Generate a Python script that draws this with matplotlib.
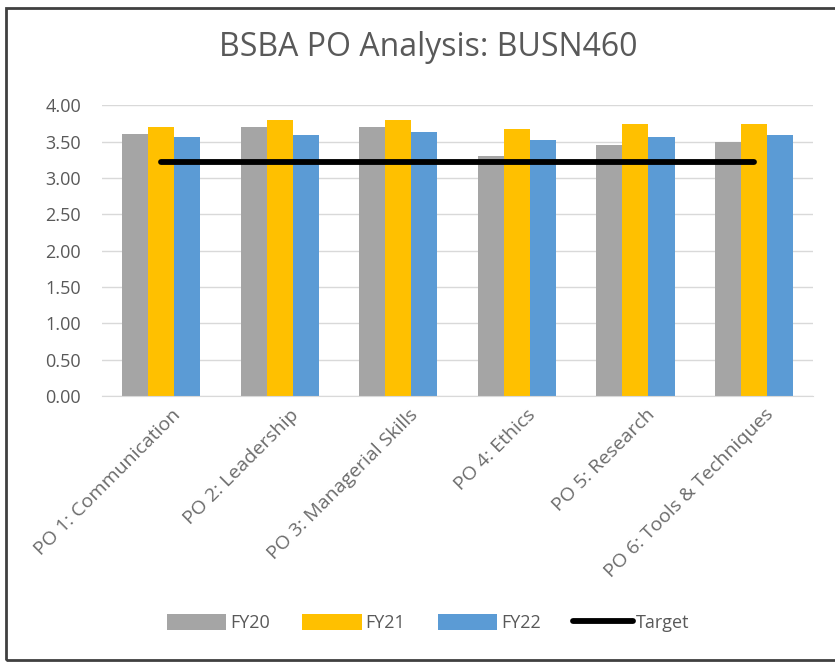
import matplotlib.pyplot as plt
import matplotlib.transforms as mtransforms
import numpy as np
from matplotlib.patches import Rectangle

plt.rcParams['font.family'] = ['Open Sans', 'DejaVu Sans']

# PO scores by fiscal year
categories = ['PO 1: Communication', 'PO 2: Leadership', 'PO 3: Managerial Skills',
              'PO 4: Ethics', 'PO 5: Research', 'PO 6: Tools & Techniques']
fy20 = [3.61, 3.70, 3.70, 3.31, 3.45, 3.50]
fy21 = [3.70, 3.80, 3.80, 3.67, 3.75, 3.75]
fy22 = [3.56, 3.59, 3.64, 3.53, 3.56, 3.59]
target = [3.22, 3.22, 3.22, 3.22, 3.22, 3.22]

x = np.arange(len(categories))
w = 0.22

fig = plt.figure(figsize=(8.35, 6.63), dpi=100)
ax = fig.add_axes([0.122, 0.403, 0.852, 0.438])

b1 = ax.bar(x - w, fy20, w, color='#a5a5a5', label='FY20', zorder=2)
b2 = ax.bar(x, fy21, w, color='#ffc000', label='FY21', zorder=2)
b3 = ax.bar(x + w, fy22, w, color='#5b9bd5', label='FY22', zorder=2)
ln, = ax.plot(x, target, color='black', lw=4.2, solid_capstyle='round', label='Target', zorder=3)

ax.set_xlim(-0.5, len(categories) - 0.5)
ax.set_ylim(0, 4)
yt = np.arange(0, 4.01, 0.5)
ax.set_yticks(yt)
ax.set_yticklabels([f'{v:.2f}' for v in yt])
ax.yaxis.grid(True, color='#d9d9d9', lw=1, zorder=0)
ax.set_axisbelow(True)
for s in ['top', 'right', 'left']:
    ax.spines[s].set_visible(False)
ax.spines['bottom'].set_color('#d9d9d9')
ax.tick_params(axis='both', length=0, colors='#595959')
ax.tick_params(axis='y', pad=15, labelsize=13)
ax.set_xticks(x)
ax.set_xticklabels(categories, rotation=45, ha='right', rotation_mode='anchor',
                   fontsize=14, color='#6b6b6b')
shift = mtransforms.ScaledTranslation(10 / 100, -5 / 100, fig.dpi_scale_trans)
for lbl in ax.get_xticklabels():
    lbl.set_transform(lbl.get_transform() + shift)

fig.text(0.513, 1 - 47 / 663, 'BSBA PO Analysis: BUSN460', ha='center', va='center',
         fontsize=23, color='#595959')

fig.legend([b1, b2, b3, ln], ['FY20', 'FY21', 'FY22', 'Target'],
           loc='center', bbox_to_anchor=(0.513, 1 - 623 / 663), ncol=4, frameon=False,
           fontsize=13, labelcolor='#595959', handlelength=3.3, handleheight=1.0,
           handletextpad=0.2, columnspacing=1.8)

# chart border
fig.patches.append(Rectangle((6 / 835, 3 / 663), 1.0, 1 - 11 / 663, transform=fig.transFigure,
                             fill=False, edgecolor='#404040', lw=2))

fig.savefig('out.png', dpi=100)
